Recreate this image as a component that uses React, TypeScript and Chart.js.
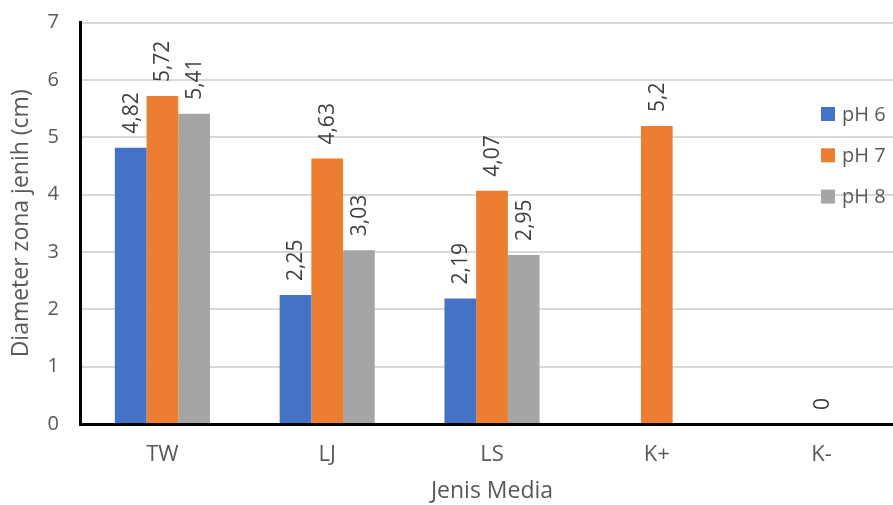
import React, { useEffect, useRef } from "react";
import { Chart, registerables } from "chart.js";

Chart.register(...registerables);

const categories = ["TW", "LJ", "LS", "K+", "K-"];
const seriesLabels = ["pH 6", "pH 7", "pH 8"];
const ph6 = [4.82, 2.25, 2.19, null, null];
const ph7 = [5.72, 4.63, 4.07, 5.2, 0];
const ph8 = [5.41, 3.03, 2.95, null, null];
const seriesColors = ["#4472C4", "#ED7D31", "#A5A5A5"];
const yTicks = [0, 1, 2, 3, 4, 5, 6, 7];

const FONT = "'Open Sans', 'DejaVu Sans', sans-serif";

const dataLabelPlugin = {
  id: "dataLabels",
  afterDatasetsDraw(chart: any) {
    const ctx = chart.ctx;
    ctx.save();
    ctx.font = `21px ${FONT}`;
    ctx.fillStyle = "#404040";
    ctx.textAlign = "left";
    ctx.textBaseline = "middle";
    chart.data.datasets.forEach((ds: any, di: number) => {
      const meta = chart.getDatasetMeta(di);
      meta.data.forEach((el: any, i: number) => {
        const v = ds.data[i];
        if (v === null || v === undefined) return;
        const txt = String(v).replace(".", ",");
        ctx.save();
        ctx.translate(el.x + 1, el.y - 14);
        ctx.rotate(-Math.PI / 2);
        ctx.fillText(txt, 0, 0);
        ctx.restore();
      });
    });
    ctx.restore();
  },
};

const legendPlugin = {
  id: "customLegend",
  afterDraw(chart: any) {
    const ctx = chart.ctx;
    ctx.save();
    ctx.font = `20px ${FONT}`;
    ctx.textAlign = "left";
    ctx.textBaseline = "middle";
    const x0 = 821;
    const yStart = 114;
    const gap = 41.3;
    chart.data.datasets.forEach((ds: any, i: number) => {
      const cy = yStart + i * gap;
      ctx.fillStyle = ds.backgroundColor;
      ctx.fillRect(x0, cy - 7, 14, 14);
      ctx.fillStyle = "#595959";
      ctx.fillText(ds.label, x0 + 21, cy + 1);
    });
    ctx.restore();
  },
};

export default function App() {
  const ref = useRef<HTMLCanvasElement | null>(null);

  useEffect(() => {
    if (!ref.current) return;
    const chart = new Chart(ref.current, {
      type: "bar",
      data: {
        labels: categories,
        datasets: [ph6, ph7, ph8].map((d, i) => ({
          label: seriesLabels[i],
          data: d,
          backgroundColor: seriesColors[i],
          borderWidth: 0,
          categoryPercentage: 0.577,
          barPercentage: 1.0,
        })),
      },
      options: {
        animation: false,
        responsive: false,
        maintainAspectRatio: false,
        layout: { padding: { top: 22.7, right: 0, bottom: 0, left: 0 } },
        plugins: {
          legend: { display: false },
          tooltip: { enabled: false },
        },
        scales: {
          x: {
            z: 1,
            grid: { display: false, drawTicks: false },
            border: { display: true, color: "#000000", width: 3 },
            ticks: {
              color: "#595959",
              font: { family: FONT, size: 22 },
              padding: 18,
            },
            title: {
              display: true,
              text: "Jenis Media",
              color: "#595959",
              font: { family: FONT, size: 23 },
              padding: { top: 0, bottom: 0 },
            },
            afterFit(scale: any) {
              scale.height = 81;
              scale.paddingLeft = 0;
              scale.paddingRight = 0;
            },
          },
          y: {
            min: 0,
            max: 7,
            afterBuildTicks(scale: any) {
              scale.ticks = yTicks.map((v) => ({ value: v }));
            },
            grid: { color: "#D9D9D9", lineWidth: 2, drawTicks: false },
            border: { display: true, color: "#000000", width: 3 },
            ticks: {
              color: "#595959",
              font: { family: FONT, size: 20 },
              padding: 21,
            },
            title: {
              display: true,
              text: "Diameter zona jenih (cm)",
              color: "#595959",
              font: { family: FONT, size: 23 },
              padding: { top: 8, bottom: 0 },
            },
            afterFit(scale: any) {
              scale.width = 80;
              scale.paddingTop = 0;
              scale.paddingBottom = 0;
            },
          },
        },
      },
      plugins: [dataLabelPlugin, legendPlugin],
    });
    return () => chart.destroy();
  }, []);

  return (
    <div
      style={{
        position: "fixed",
        left: 0,
        top: 0,
        width: 893,
        height: 505,
        overflow: "hidden",
        background: "#ffffff",
      }}
    >
      <canvas
        ref={ref}
        width={904}
        height={505}
        style={{ display: "block", width: 904, height: 505 }}
      />
    </div>
  );
}
